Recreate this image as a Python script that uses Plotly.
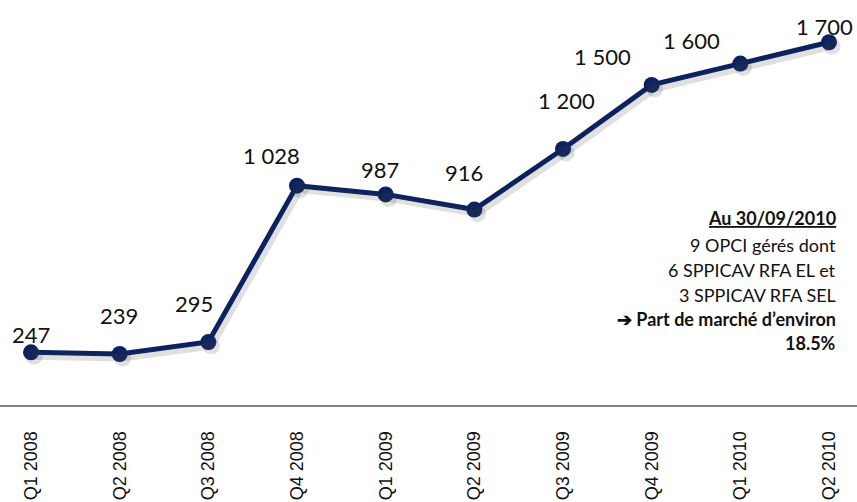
import plotly.graph_objects as go

quarters = ["Q1 2008", "Q2 2008", "Q3 2008", "Q4 2008", "Q1 2009",
            "Q2 2009", "Q3 2009", "Q4 2009", "Q1 2010", "Q2 2010"]
values = [247, 239, 295, 1028, 987, 916, 1200, 1500, 1600, 1700]
value_labels = ["247", "239", "295", "1 028", "987", "916", "1 200", "1 500", "1 600", "1 700"]

# manual label offsets (pixels) as in the original
label_dx = [0, -1, -14, -26, -6, -10, 3, -49, -49, -5]
label_dy = [18, 39, 39, 30, 25, 37, 48, 28, 23, 16]

note_lines = ["<b><u>Au 30/09/2010</u></b>", "9 OPCI gérés dont", "6 SPPICAV RFA EL et",
              "3 SPPICAV RFA SEL", "<b>➔ Part de marché d’environ</b>", "<b>18.5%</b>"]

W, H = 857, 502
plot_h = 405
xs = list(range(len(quarters)))
px_per_x = 798 / 9
x0 = -31 / px_per_x
x1 = 9 + 28 / px_per_x
ytop = 1898
px_per_y = plot_h / ytop

navy = "#0b2260"

fig = go.Figure()
# shadow
fig.add_trace(go.Scatter(x=xs, y=values, mode="lines+markers",
                         line=dict(color="rgba(60,60,60,0.16)", width=7),
                         marker=dict(size=17, color="rgba(60,60,60,0.16)"),
                         xaxis="x2", yaxis="y2", hoverinfo="skip", showlegend=False))
fig.add_trace(go.Scatter(x=xs, y=values, mode="lines+markers",
                         line=dict(color=navy, width=5),
                         marker=dict(size=16, color=navy),
                         showlegend=False))

for i, (v, t) in enumerate(zip(values, value_labels)):
    fig.add_annotation(x=i, y=v, text=t, showarrow=False,
                       xanchor="center", yanchor="middle",
                       xshift=label_dx[i], yshift=label_dy[i],
                       font=dict(family="Lato", size=22, color="#111111"))

note_y = [218, 245, 270, 295, 319, 343]
for t, py in zip(note_lines, note_y):
    fig.add_annotation(xref="paper", yref="paper", x=838 / W, y=(plot_h - py) / plot_h,
                       text=t, showarrow=False, xanchor="right", yanchor="middle",
                       font=dict(family="Lato", size=18, color="#111111"))

sx, sy = 3, 4
fig.update_layout(
    width=W, height=H,
    margin=dict(l=0, r=0, t=0, b=H - plot_h, autoexpand=False),
    paper_bgcolor="white", plot_bgcolor="white",
    xaxis=dict(range=[x0, x1], tickmode="array", tickvals=xs, ticktext=quarters,
               tickangle=-90, showgrid=False, zeroline=False,
               showline=True, linecolor="#808080", linewidth=2,
               ticks="", ticklabelstandoff=17,
               tickfont=dict(family="Liberation Sans", size=18, color="#111111")),
    yaxis=dict(range=[0, ytop], visible=False, showgrid=False, zeroline=False),
    xaxis2=dict(range=[x0 - sx / px_per_x, x1 - sx / px_per_x], overlaying="x",
                visible=False),
    yaxis2=dict(range=[sy / px_per_y, ytop + sy / px_per_y], overlaying="y",
                visible=False),
)

fig.write_html("out.html", config={"displayModeBar": False},
               post_script="document.body.style.margin='0';document.body.style.overflow='hidden';")
